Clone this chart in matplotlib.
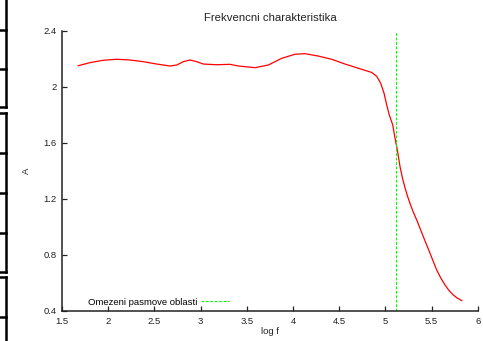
import matplotlib
matplotlib.use("Agg")
import matplotlib.pyplot as plt
from matplotlib.lines import Line2D

plt.rcParams['font.family'] = ['Liberation Sans', 'DejaVu Sans']
plt.rcParams['font.size'] = 6.8

# data
log_f = [1.675, 1.802, 1.946, 2.091, 2.235, 2.379, 2.524, 2.668, 2.741, 2.812,
         2.885, 2.957, 3.029, 3.174, 3.318, 3.408, 3.589, 3.733, 3.878, 4.022,
         4.130, 4.274, 4.419, 4.563, 4.707, 4.852, 4.907, 4.950, 4.986, 5.015,
         5.043, 5.080, 5.105, 5.130, 5.159, 5.185, 5.213, 5.240, 5.267, 5.300,
         5.340, 5.411, 5.484, 5.556, 5.600, 5.646, 5.690, 5.736, 5.780, 5.827]
amp = [2.152, 2.174, 2.191, 2.198, 2.193, 2.181, 2.164, 2.150, 2.157, 2.181,
       2.193, 2.181, 2.164, 2.159, 2.162, 2.150, 2.138, 2.157, 2.205, 2.234,
       2.238, 2.221, 2.198, 2.164, 2.134, 2.104, 2.076, 2.026, 1.955, 1.871,
       1.800, 1.729, 1.634, 1.550, 1.431, 1.350, 1.280, 1.220, 1.169, 1.110,
       1.050, 0.931, 0.812, 0.693, 0.636, 0.586, 0.546, 0.514, 0.492, 0.474]
cutoff = 5.115
xticks = [1.5, 2, 2.5, 3, 3.5, 4, 4.5, 5, 5.5, 6]
yticks = [0.4, 0.8, 1.2, 1.6, 2, 2.4]

fig = plt.figure(figsize=(4.83, 3.41), dpi=100)
ax = fig.add_axes([62.1 / 483, 30 / 341, (477.7 - 62.1) / 483, 280 / 341])

ax.plot(log_f, amp, color='red', linewidth=0.9)
ax.axvline(cutoff, color='#00ff00', linewidth=0.8, linestyle=(0, (2.5, 1.5)),
           label='Omezeni pasmove oblasti')

ax.set_xlim(1.5, 6)
ax.set_ylim(0.4, 2.4)
ax.set_xticks(xticks)
ax.set_xticklabels(['1.5', '2', '2.5', '3', '3.5', '4', '4.5', '5', '5.5', '6'])
ax.set_yticks(yticks)
ax.set_yticklabels(['0.4', '0.8', '1.2', '1.6', '2', '2.4'])
ax.spines['top'].set_visible(False)
ax.spines['right'].set_visible(False)
for s in ('left', 'bottom'):
    ax.spines[s].set_linewidth(1.1)
    ax.spines[s].set_color('#222222')
ax.tick_params(direction='in', length=3.5, width=0.9, color='#222222', pad=4,
               labelcolor='#222222')

ax.set_title('Frekvencni charakteristika', pad=7, color='#222222')
ax.set_xlabel('log f', labelpad=1, color='#222222')
ax.set_ylabel('A', labelpad=9, color='#222222')

ax.legend(loc='center left', bbox_to_anchor=(0.062, 0.032), frameon=False,
          markerfirst=False, borderpad=0, borderaxespad=0,
          handlelength=3.0, handletextpad=0.35)

# bracket-like lines at the left edge of the page
xv = 6 / 483
segs = [(0, 107), (113, 272), (277, 341)]
for a, b in segs:
    fig.add_artist(Line2D([xv, xv], [1 - a / 341, 1 - b / 341], color='black',
                          linewidth=1.8, transform=fig.transFigure))
for yy in [29.5, 69, 107, 113, 153, 193, 233, 272, 277, 317]:
    fig.add_artist(Line2D([0, xv], [1 - yy / 341, 1 - yy / 341], color='black',
                          linewidth=1.8, transform=fig.transFigure))

fig.savefig('out.png', dpi=100)
